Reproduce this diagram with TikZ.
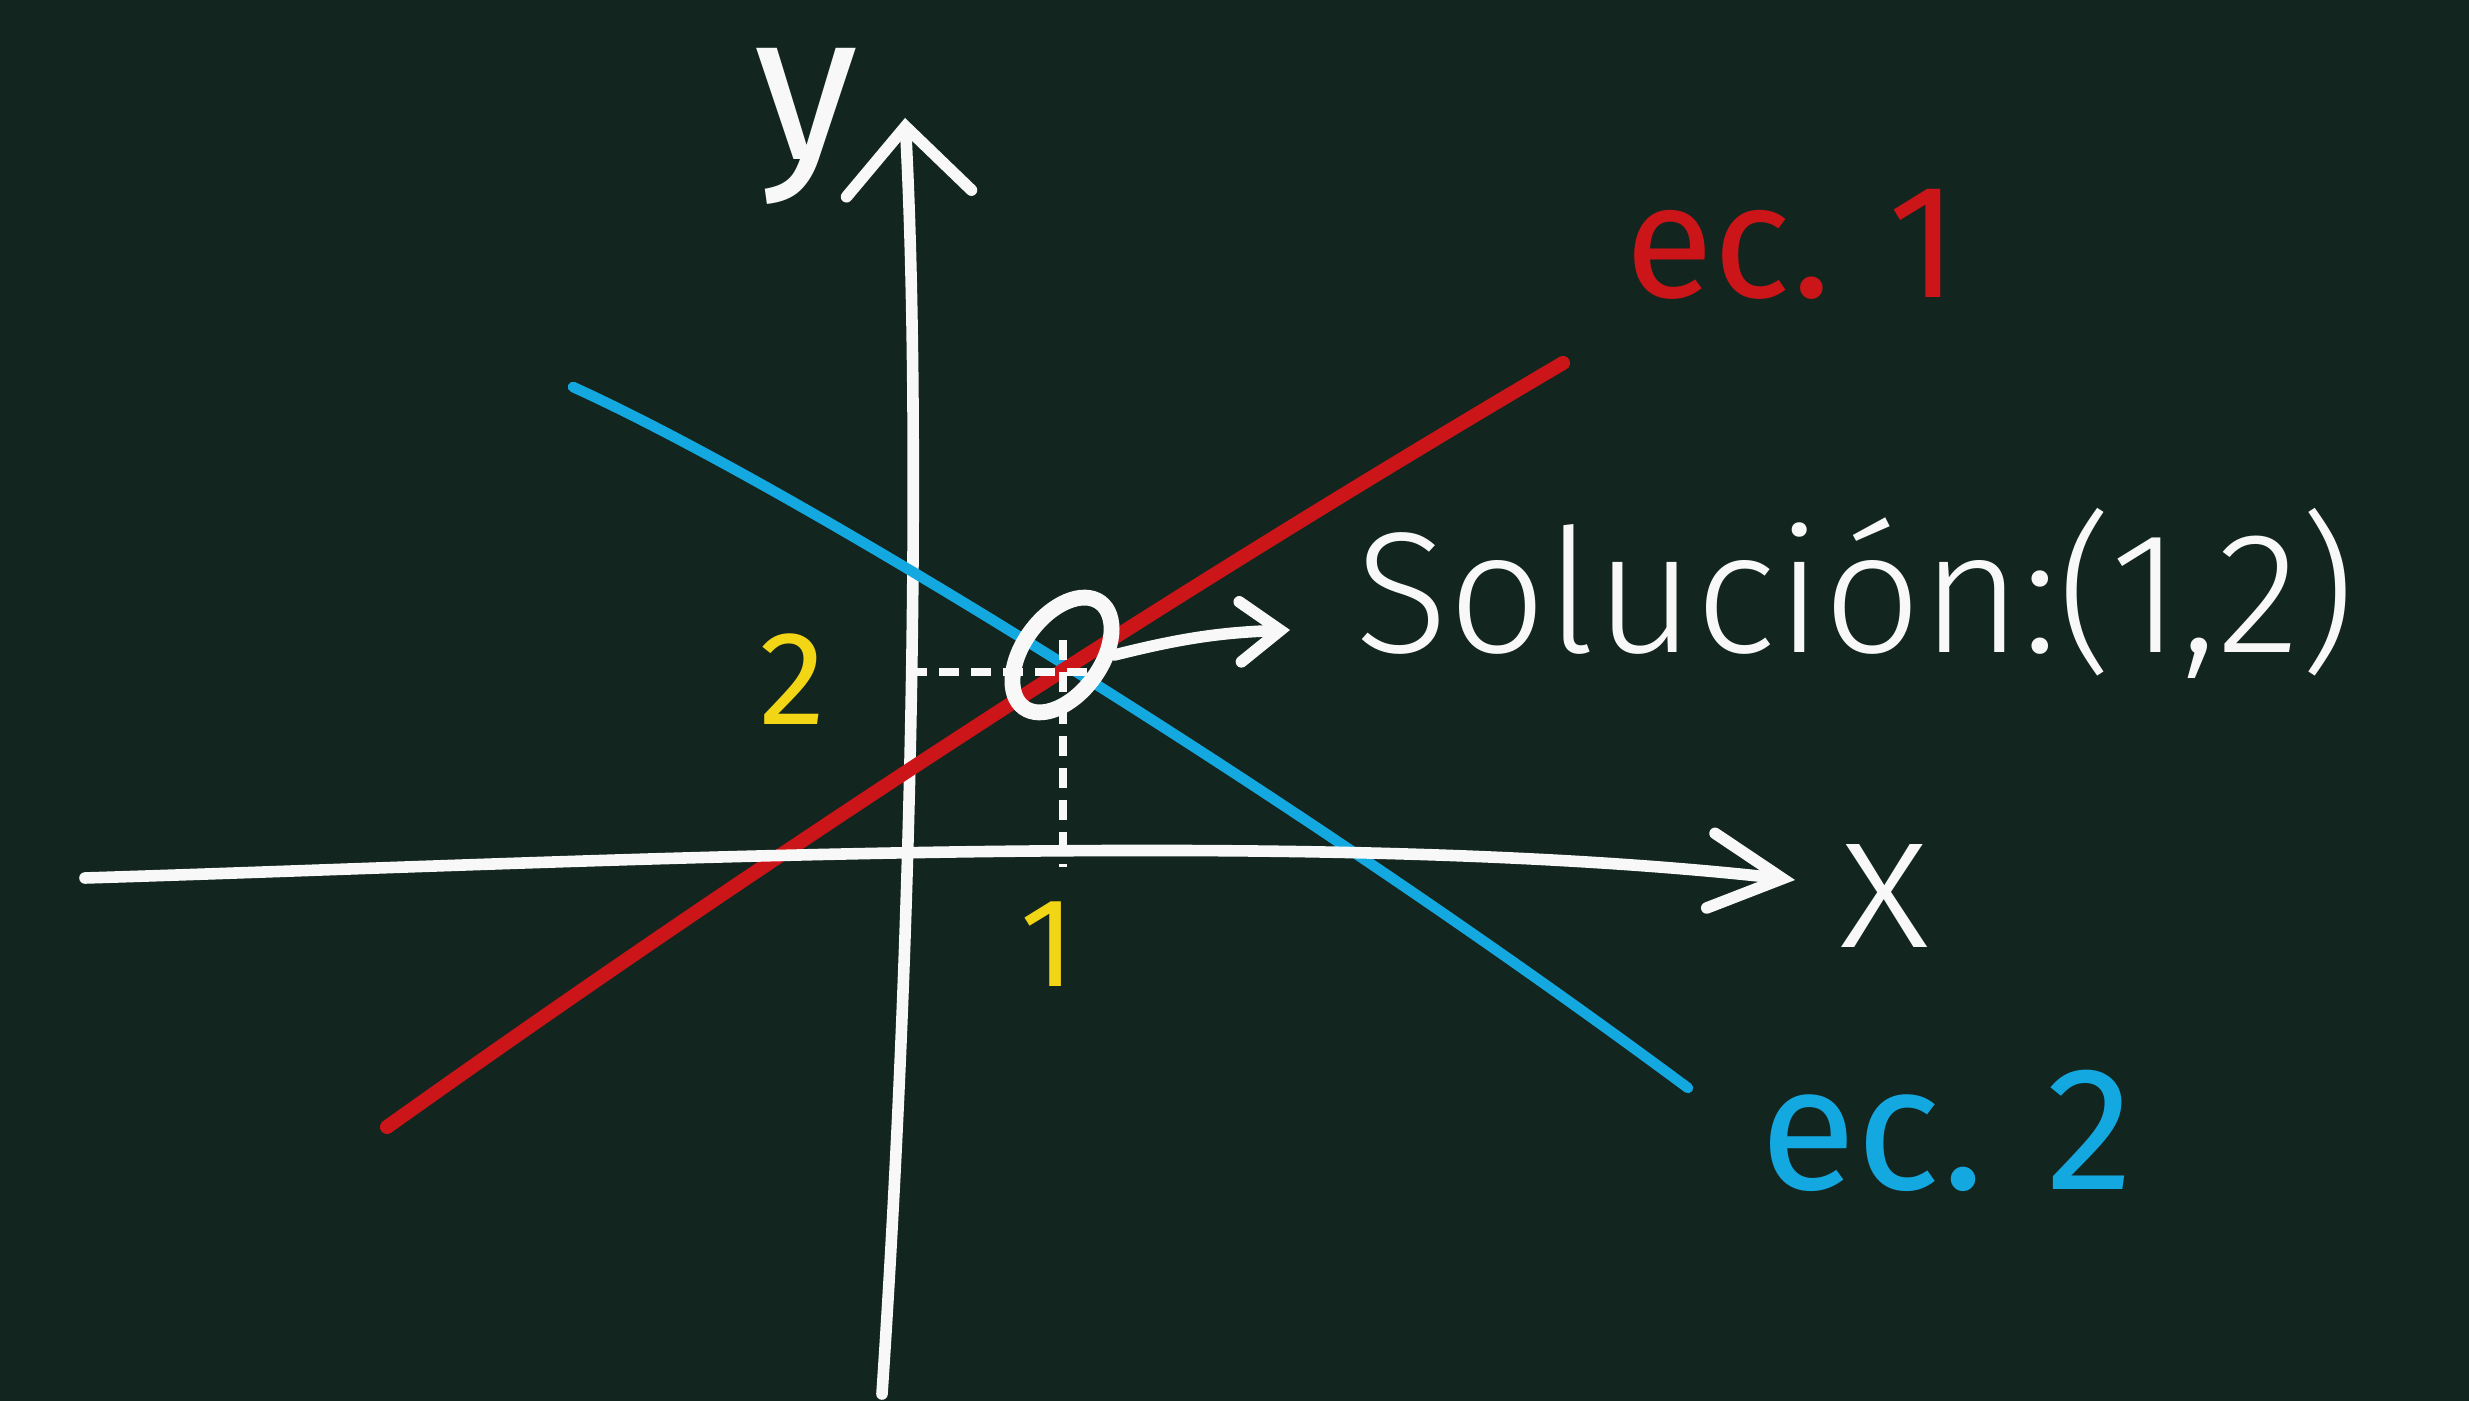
\documentclass[tikz,border=0pt]{standalone}
\usepackage{fontspec}
\setmainfont{Fira Sans Light}
\newfontfamily\markerfont{Fira Sans}
\usetikzlibrary{arrows.meta,shapes.geometric}
\definecolor{board}{HTML}{12251F}
\definecolor{chalkred}{HTML}{CC1518}
\definecolor{chalkblue}{HTML}{14A8E0}
\definecolor{chalkyellow}{HTML}{F2D515}
\definecolor{chalkwhite}{HTML}{F8F8F8}
\tikzset{
  axisline/.style={draw=chalkwhite, line width=3.3pt, line cap=round, line join=round},
  redline/.style={draw=chalkred, line width=4pt, line cap=round},
  blueline/.style={draw=chalkblue, line width=3pt, line cap=round},
  guide/.style={draw=chalkwhite, line width=2pt, dash pattern=on 0.2cm off 0.12cm},
  label/.style={inner sep=0pt, anchor=base},
}
\begin{document}
\begin{tikzpicture}[x=0.01cm,y=-0.01cm]
\fill[board] (0,0) rectangle (2469,1401);
\useasboundingbox (0,0) rectangle (2469,1401);

% named points
\coordinate (xs) at (85,878);
\coordinate (xe) at (1795,880);
\coordinate (ys) at (882,1394);
\coordinate (ye) at (905,118);
\coordinate (r0) at (387,1127);
\coordinate (r1) at (1563,363);
\coordinate (b0) at (573,387);
\coordinate (b1) at (1688,1088);
\coordinate (P) at (1063,672);
\coordinate (ty) at (907,672);
\coordinate (tx) at (1063,867);
\coordinate (tipc) at (1290,630);

% y axis
\draw[axisline, -{Straight Barb[length=0.67cm,width=1.25cm,line cap=round]}]
  (ys) .. controls (915,900) and (920,400) .. (ye);

% lines
\draw[blueline] (b0) .. controls (800,490) and (1300,800) .. (b1);
\draw[redline] (r0) .. controls (779,848) and (1171,594) .. (r1);

% x axis
\draw[axisline, -{Straight Barb[length=0.72cm,width=0.75cm,line cap=round]}]
  (xs) .. controls (600,862) and (1300,825) .. (xe);

% guides
\draw[guide] (ty) -- ([xshift=0.27cm]P);
\draw[guide] ([yshift=0.32cm]P) -- (tx);

% solution circle and arrow
\node[ellipse, draw=chalkwhite, line width=4.5pt, minimum width=1.3cm,
      minimum height=0.78cm, rotate=54, inner sep=0pt] (sol) at (1062,655) {};
\draw[axisline, -{Straight Barb[length=0.4cm,width=0.6cm,line cap=round]}]
  (sol.-54) to[bend left=6] (tipc);

% labels
\node[label, anchor=base west, text=chalkwhite, font=\fontsize{49}{51}\selectfont]
  (soltext) at (1355,653) {Solución:(1,2)};
\node[label, anchor=base west, text=chalkred, font=\markerfont\fontsize{46}{48}\selectfont]
  (ec1) at (1625,298) {ec. 1};
\node[label, anchor=base west, text=chalkblue, font=\markerfont\fontsize{50}{52}\selectfont]
  (ec2) at (1760,1190) {ec. 2};
\node[label, text=chalkwhite, font=\markerfont\fontsize{60}{62}\selectfont] (ylab) at (806,160) {y};
\node[label, text=chalkwhite, font=\fontsize{56}{58}\selectfont] (xlab) at (1885,948) {x};
\node[label, text=chalkyellow, font=\markerfont\fontsize{38}{40}\selectfont] (two) at (793,725) {2};
\node[label, text=chalkyellow, font=\markerfont\fontsize{36}{38}\selectfont] (one) at (1048,987) {1};
\end{tikzpicture}
\end{document}
